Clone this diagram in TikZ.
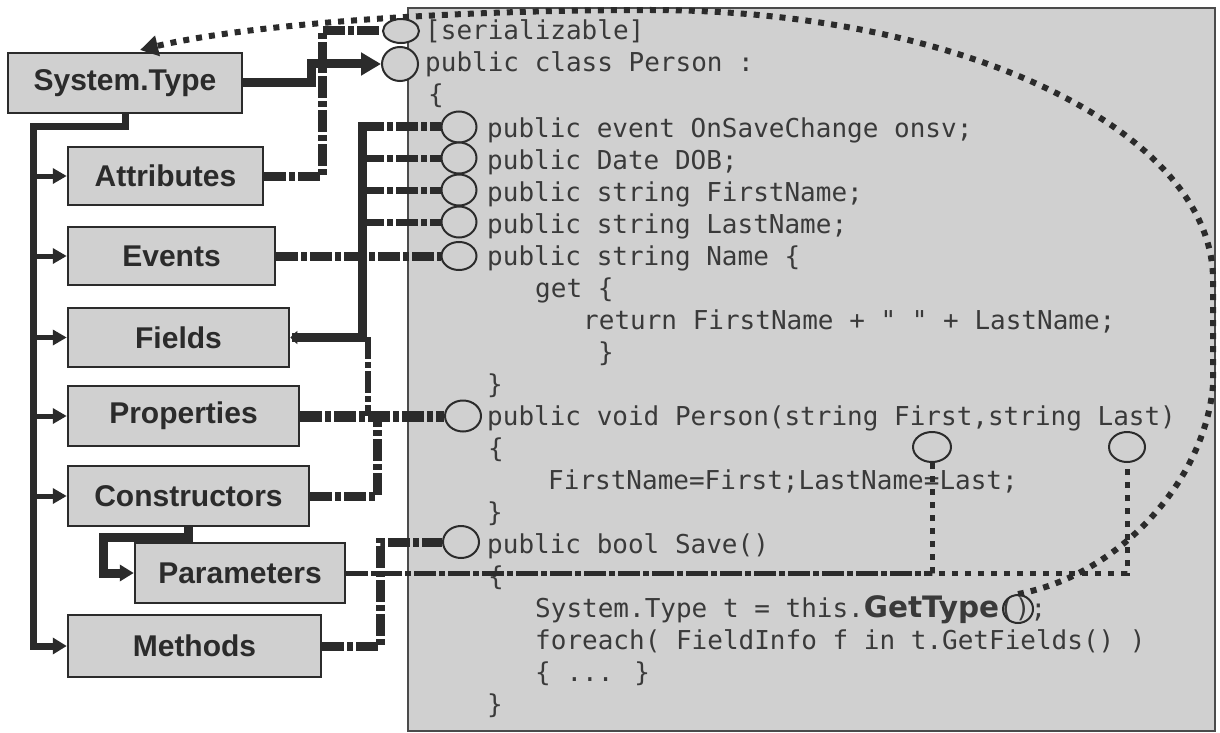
\documentclass[tikz,border=0pt]{standalone}
\usepackage{fontspec}
\setmainfont{Liberation Sans}
\newfontfamily\codefont{DejaVu Sans Mono}
\newfontfamily\boldsans{DejaVu Sans}
\usetikzlibrary{arrows.meta,shapes.geometric}
\definecolor{panelgray}{RGB}{208,208,208}
\definecolor{ink}{RGB}{43,43,43}
\definecolor{codeink}{RGB}{58,58,58}
\begin{document}
\begin{tikzpicture}[x=1pt,y=-1pt,
  box/.style={draw=ink,line width=2.5pt,fill=panelgray,rectangle,inner sep=0pt,text=ink,
    font=\fontsize{30}{36}\selectfont\bfseries},
  panelbox/.style={draw=ink!85,line width=2pt,fill=panelgray,rectangle,inner sep=0pt},
  ring/.style={draw=ink,line width=2pt,fill=panelgray,ellipse,inner sep=0pt},
  codeline/.style={anchor=base west,inner sep=0pt,text=codeink,font=\codefont\fontsize{26}{30}\selectfont},
  conn/.style={draw=ink,line width=9pt},
  dashconn/.style={draw=ink,line width=9pt,dash pattern=on 22pt off 3pt on 6pt off 3pt},
  dotconn/.style={draw=ink,line width=6pt,dash pattern=on 6pt off 7pt},
  trunk/.style={draw=ink,line width=7pt},
  branch/.style={draw=ink,line width=5pt,-{Triangle[length=14pt,width=15pt]}},
]
\useasboundingbox (0,0) rectangle (1220,733);
\fill[white] (0,0) rectangle (1220,733);

% code panel
\node[panelbox,minimum width=807pt,minimum height=723pt] (panel) at (811.5,369.5) {};

% left boxes
\node[box,minimum width=234pt,minimum height=60pt] (st) at (125,83) {System.Type};
\node[box,minimum width=195pt,minimum height=58pt] (attr) at (165.5,176) {Attributes};
\node[box,minimum width=207pt,minimum height=58pt] (ev) at (171.5,256) {Events};
\node[box,minimum width=221pt,minimum height=59pt] (flds) at (178.5,337.5) {Fields};
\node[box,minimum width=231pt,minimum height=60pt] (prop) at (183.5,416) {Properties};
\node[box,minimum width=241pt,minimum height=60pt] (ctor) at (188.5,496) {Constructors};
\node[box,minimum width=210pt,minimum height=60pt] (par) at (240,573) {Parameters};
\node[box,minimum width=253pt,minimum height=62pt] (meth) at (194.5,646) {Methods};

% code text
\node[codeline] (l1) at (425,40) {[serializable]};
\node[codeline] (l2) at (425,72) {public class Person :};
\node[codeline] (l3) at (428,104) {\{};
\node[codeline] (l4) at (487,137) {public event OnSaveChange onsv;};
\node[codeline] (l5) at (487,169) {public Date DOB;};
\node[codeline] (l6) at (487,201) {public string FirstName;};
\node[codeline] (l7) at (487,233) {public string LastName;};
\node[codeline] (l8) at (487,265) {public string Name \{};
\node[codeline] (l9) at (535,297) {get \{};
\node[codeline] (l10) at (583,329) {return FirstName + " " + LastName;};
\node[codeline] (l11) at (598,361) {\}};
\node[codeline] (l12) at (487,393) {\}};
\node[codeline] (l13) at (487,425) {public void Person(string First,string Last)};
\node[codeline] (l14) at (488,457) {\{};
\node[codeline] (l15) at (548,489) {FirstName=First;LastName=Last;};
\node[codeline] (l16) at (487,521) {\}};
\node[codeline] (l17) at (487,553) {public bool Save()};
\node[codeline] (l18) at (488,585) {\{};
\node[codeline] (l19) at (535,617) {System.Type t = this.{\boldsans\bfseries\fontsize{29.5}{30}\selectfont GetType}();};
\node[codeline] (l20) at (535,649) {foreach( FieldInfo f in t.GetFields() )};
\node[codeline] (l21) at (535,681) {\{ ... \}};
\node[codeline] (l22) at (487,713) {\}};

% rings
\node[ring,minimum width=36pt,minimum height=24pt] (ser) at (401,31) {};
\node[ring,minimum width=36pt,minimum height=34pt] (cls) at (400,64) {};
\node[ring,minimum width=35pt,minimum height=31pt] (cev) at (459,127) {};
\node[ring,minimum width=35pt,minimum height=31pt] (cdob) at (459,158) {};
\node[ring,minimum width=35pt,minimum height=31pt] (cfn) at (459,190) {};
\node[ring,minimum width=35pt,minimum height=31pt] (cln) at (459,222) {};
\node[ring,minimum width=35pt,minimum height=28pt] (cnm) at (459,256) {};
\node[ring,minimum width=36pt,minimum height=31pt] (cpc) at (463,416) {};
\node[ring,minimum width=36pt,minimum height=32pt] (csv) at (461,542) {};
\node[ring,minimum width=38pt,minimum height=30pt] (pc1) at (932,447) {};
\node[ring,minimum width=36pt,minimum height=30pt] (pc2) at (1127,447) {};
\node[draw=ink,line width=2pt,ellipse,inner sep=0pt,minimum width=30pt,minimum height=28pt] (gt) at (1018,609) {};

% trunk from System.Type to the member kinds
\coordinate (trk) at (33,127);
\draw[trunk,-{Triangle[length=14pt,width=16pt]}] (st.south) |- (trk) |- (meth.west);
\foreach \b in {attr,ev,flds,prop,ctor}
  \draw[branch] (trk |- \b.west) -- (\b.west);

% Constructors -> Parameters
\coordinate (cp) at (103,537);
\draw[conn,-{Triangle[length=14pt,width=16pt]}] (ctor.south) |- (cp) |- (par.west);

% System.Type -> class
\coordinate (sc) at (311,70);
\draw[conn,-{Triangle[length=20pt,width=22pt]}] (st.east) -| (sc) |- (cls.west);

% Attributes -> serializable
\coordinate (sa) at (322,100);
\draw[dashconn] (attr.east) -| (sa) |- (ser.west);

% Fields
\coordinate (ft) at (362,127);
\draw[conn,line cap=rect,-{Triangle[length=7pt,width=13pt]}] (ft) |- (flds.east);
\draw[dashconn] (ft) -- (cev.west);
\foreach \c in {cdob,cfn,cln}
  \draw[dashconn,line width=7pt] (ft |- \c.west) -- (\c.west);

% Events -> Name
\draw[dashconn] (ev.east) -- (cnm.west);

% Properties -> Person()
\draw[dashconn,line width=11pt] (prop.east) -- (cpc.west);

% Constructors
\coordinate (cu) at (377,416);
\draw[dashconn] (ctor.east) -| (cu);
\coordinate (fx) at (368,337);
\draw[dashconn,line width=6pt] (fx) -- (fx |- prop.east);

% Methods -> Save
\coordinate (ms) at (380,600);
\draw[dashconn] (meth.east) -| (ms) |- (csv.west);

% Parameters
\draw[dashconn,line width=5pt] (par.east) -- (par.east -| pc1.south);
\draw[dotconn,line width=5pt] (pc1.south) -- (pc1.south |- par.east) -- (pc2.south |- par.east) -- (pc2.south);

% GetType -> System.Type
\coordinate (tip) at (140,50);
\draw[dotconn,-{Triangle[length=18pt,width=20pt]}] (gt.north) .. controls (1120,575) and (1205,480) .. (1213,385)
  -- (1213,280) .. controls (1213,131) and (961,10) .. (650,10) .. controls (450,10) and (250,24) .. (tip);
\end{tikzpicture}
\end{document}
